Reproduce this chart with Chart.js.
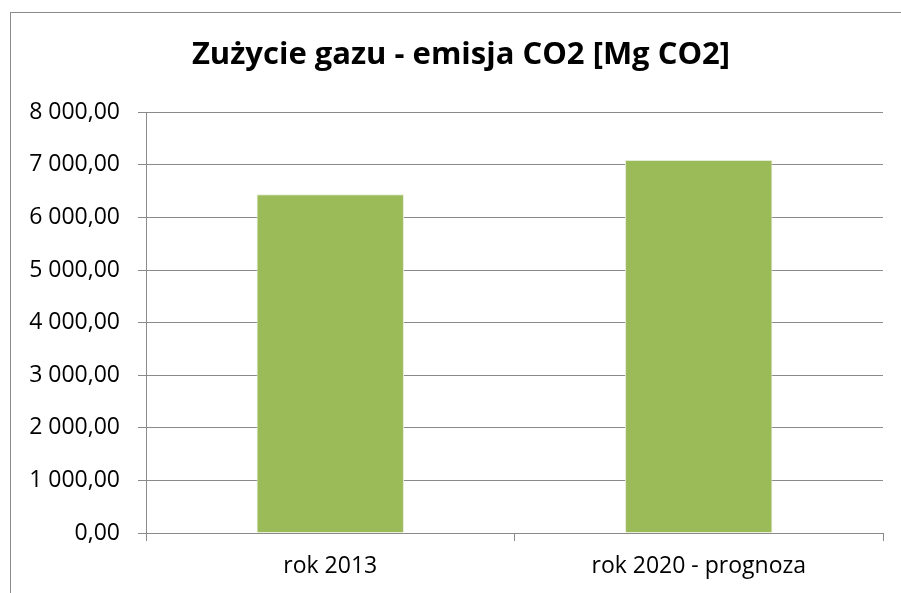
<!DOCTYPE html>
<html>
<head>
<meta charset="utf-8">
<script src="https://cdn.jsdelivr.net/npm/chart.js@4"></script>
<style>
  html, body { margin: 0; padding: 0; background: #fff; }
  #wrap { width: 901px; height: 593px; position: relative; }
</style>
</head>
<body>
<div id="wrap"><canvas id="barChart"></canvas></div>
<script>
// DATA
const categories = ['rok 2013', 'rok 2020 - prognoza'];
const emisja = [6440, 7090];
const yTicks = [0, 1000, 2000, 3000, 4000, 5000, 6000, 7000, 8000];
const chartTitle = 'Zużycie gazu - emisja CO2 [Mg CO2]';

const fontName = "'Open Sans', 'Noto Sans', sans-serif";

// "8 000,00"
function fmt(v){
    const parts = v.toFixed(2).split('.');
    const int = parts[0].replace(/\B(?=(\d{3})+(?!\d))/g, ' ');
    return int + ',' + parts[1];
}

// frame around the whole chart (cut by the window on right/bottom)
const framePlugin = {
    id: 'frame',
    afterLayout(chart){
        // title sits a bit right of the canvas centre
        if (chart.titleBlock) chart.titleBlock.left = 39;
    },
    beforeDraw(chart){
        const c = chart.ctx;
        c.save();
        c.fillStyle = '#fff';
        c.fillRect(0, 0, chart.width, chart.height);
        c.strokeStyle = '#8a8a8a';
        c.lineWidth = 1;
        c.strokeRect(10.5, 12.5, chart.width + 20, chart.height + 20);
        c.restore();
    }
};

const ctx = document.getElementById('barChart').getContext('2d');

new Chart(ctx, {
    type: 'bar',
    data: {
        labels: categories,
        datasets: [{
            data: emisja,
            backgroundColor: '#9BBB59',
            borderColor: '#e3ebd3',
            borderWidth: 1,
            barPercentage: 0.4,
            categoryPercentage: 1.0
        }]
    },
    options: {
        responsive: true,
        maintainAspectRatio: false,
        animation: false,
        layout: { padding: { left: 10, right: 18, top: 0, bottom: 0 } },
        plugins: {
            legend: { display: false },
            tooltip: { enabled: false },
            title: {
                display: true,
                text: chartTitle,
                color: '#000',
                font: { family: fontName, size: 31, weight: 'bold' },
                padding: { top: 37, bottom: 38 }
            }
        },
        scales: {
            x: {
                grid: { display: true, drawOnChartArea: false, drawTicks: true, tickLength: 8, color: '#8a8a8a', offset: true },
                border: { color: '#8a8a8a' },
                ticks: { color: '#000', font: { family: fontName, size: 23 }, padding: 12 },
                afterFit(s){ s.height = 60; }
            },
            y: {
                min: 0,
                max: 8000,
                afterBuildTicks(s){ s.ticks = yTicks.map(v => ({ value: v })); },
                grid: { color: '#8a8a8a', tickLength: 8 },
                border: { color: '#8a8a8a' },
                ticks: {
                    color: '#000',
                    font: { family: fontName, size: 23 },
                    padding: 18,
                    callback: v => fmt(v)
                },
                afterFit(s){ s.width = 136; }
            }
        }
    },
    plugins: [framePlugin]
});
</script>
</body>
</html>
